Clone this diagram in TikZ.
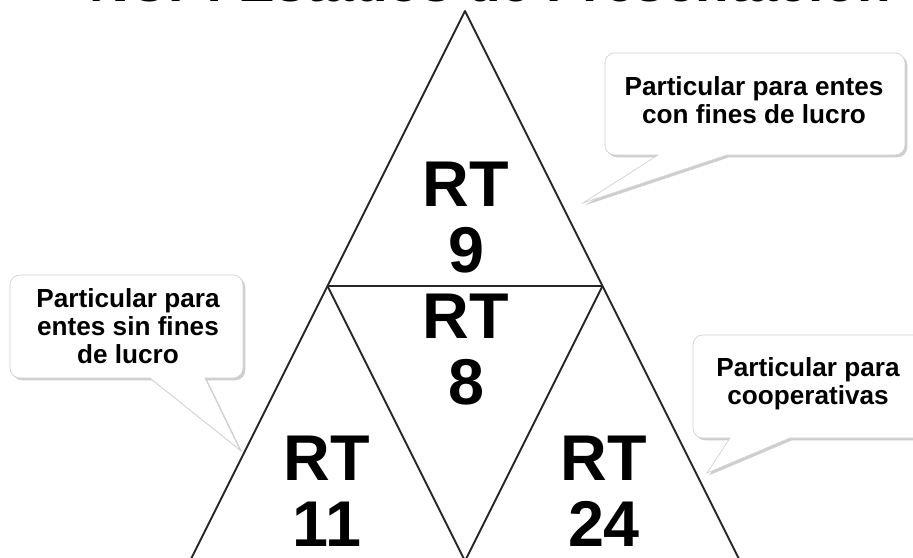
\documentclass[tikz,border=0pt]{standalone}
\usepackage{fontspec}
\setmainfont{Liberation Sans}
\usetikzlibrary{shadows}
\tikzset{
  edge/.style={draw=black!85, line width=1.3pt, line join=round},
  midedge/.style={draw=black!85, line width=0.9pt},
  rtlabel/.style={align=center, font=\bfseries\fontsize{46}{47}\selectfont, inner sep=0pt},
  bubble/.style={draw=black!18, fill=white, line width=0.5pt, rounded corners=7pt,
    drop shadow={shadow xshift=1.6pt, shadow yshift=-1.6pt, fill=black!35, opacity=0.55}},
  bubbletext/.style={align=center, font=\bfseries\fontsize{18.6}{20}\selectfont, inner sep=0pt},
  heading/.style={font=\bfseries\fontsize{39}{44}\selectfont, inner sep=0pt}
}

\begin{document}
\begin{tikzpicture}[x=0.025cm, y=-0.025cm]
  \useasboundingbox (0,0) rectangle (913,558);
  \fill[white] (0,0) rectangle (913,558);

  % title, cut by the top edge
  \node[heading, anchor=base] (title) at (490,1.5) {NCP: Estados de Presentación};

  % triangle corners
  \coordinate (apex) at (465,11);
  \coordinate (bl) at (190,561);
  \coordinate (br) at (740,561);
  \coordinate (ml) at (327.5,286);
  \coordinate (mr) at (602.5,286);
  \coordinate (mb) at (465,561);

  \draw[edge] (bl) -- (apex) -- (br);
  \draw[edge] (ml) -- (mb) -- (mr);
  \draw[midedge] (ml) -- (mr);

  \node[rtlabel] (rt9) at (466,218) {RT\\9};
  \node[rtlabel] (rt8) at (466,350) {RT\\8};
  \node[rtlabel] (rt11) at (327,491) {RT\\11};
  \node[rtlabel] (rt24) at (604,491) {RT\\24};

  % callouts
  \coordinate (tip9) at (583,203);
  \coordinate (tip11) at (240,450);
  \coordinate (tip24) at (707,473);

  \draw[bubble] (605,104) -- (605,53) -- (905,53) -- (905,155)
    [sharp corners] -- (727,155) -- (tip9) -- (658,155)
    [rounded corners=7pt] -- (605,155) -- cycle;
  \node[bubbletext] (c9) at (754,100) {Particular para entes\\con fines de lucro};

  \draw[bubble] (10,326) -- (10,275) -- (243,275) -- (243,378)
    [sharp corners] -- (205,378) -- (tip11) -- (150,378)
    [rounded corners=7pt] -- (10,378) -- cycle;
  \node[bubbletext] (c11) at (128,326) {Particular para\\entes sin fines\\de lucro};

  \draw[bubble] (693,386) -- (693,335) -- (925,335) -- (925,438)
    [sharp corners] -- (790,438) -- (tip24) -- (730,438)
    [rounded corners=7pt] -- (693,438) -- cycle;
  \node[bubbletext] (c24) at (808,384) {Particular para\\cooperativas};
\end{tikzpicture}
\end{document}
